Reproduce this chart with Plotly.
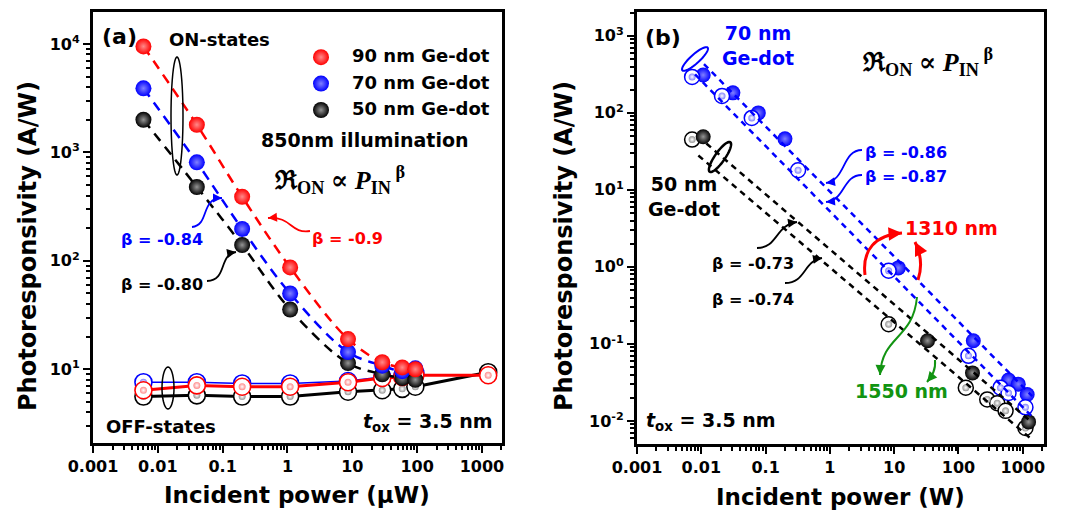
import math
import plotly.graph_objects as go

# ---------------- data: panel (a) ----------------
a_x_on = [0.006, 0.04, 0.2, 1.1, 8.6, 29, 59, 94]
a_red_on = [9500, 1800, 390, 87, 19, 11.6, 10.4, 10.0]
a_blue_on = [3900, 810, 197, 50, 14.4, 10.8, 9.6, 10.2]
a_black_on = [2000, 480, 140, 35.6, 11.4, 9.0, 8.3, 8.0]

a_x_off = [0.006, 0.04, 0.2, 1.1, 8.6, 29, 59, 94, 1250]
a_red_off = [6.4, 7.1, 6.9, 6.9, 7.6, 8.3, 8.5, 8.8, 8.8]
a_blue_off = [7.6, 7.6, 7.4, 7.4, 7.8, 8.5, 8.7, 9.2]
a_black_off = [5.6, 5.75, 5.6, 5.6, 6.2, 6.4, 6.6, 6.9, 9.4]

a_xticks = [0.001, 0.01, 0.1, 1, 10, 100, 1000]
a_xticktext = ["0.001", "0.01", "0.1", "1", "10", "100", "1000"]
a_yticks = [10, 100, 1000, 10000]
a_yticktext = ["10<sup>1</sup>", "10<sup>2</sup>", "10<sup>3</sup>", "10<sup>4</sup>"]

# ---------------- data: panel (b) ----------------
b_x_1310_70 = [0.0107, 0.031, 0.077, 0.2, 11.6, 170, 600, 850, 1170]
b_y_1310_70 = [310, 182, 100, 46, 0.97, 0.11, 0.034, 0.030, 0.022]
b_x_1550_70 = [0.0072, 0.021, 0.061, 0.32, 8.2, 143, 450, 600, 1100]
b_y_1550_70 = [293, 166, 86, 18, 0.89, 0.07, 0.027, 0.023, 0.015]
b_x_1310_50 = [0.0107, 33, 165, 1230]
b_y_1310_50 = [49, 0.11, 0.042, 0.0097]
b_x_1550_50 = [0.0072, 8.2, 130, 280, 400, 540, 1100]
b_y_1550_50 = [45, 0.18, 0.027, 0.019, 0.017, 0.0135, 0.0081]

# power-law fit lines (end points)
b_fit_1310_70_x = [0.011, 1400]
b_fit_1310_70_y = [430, 0.021]
b_fit_1550_70_x = [0.008, 1400]
b_fit_1550_70_y = [316, 0.0113]
b_fit_1310_50_x = [0.012, 1400]
b_fit_1310_50_y = [40, 0.0095]
b_fit_1550_50_x = [0.009, 1300]
b_fit_1550_50_y = [28, 0.006]

b_xticks = a_xticks
b_xticktext = a_xticktext
b_yticks = [0.01, 0.1, 1, 10, 100, 1000]
b_yticktext = ["10<sup>-2</sup>", "10<sup>-1</sup>", "10<sup>0</sup>",
               "10<sup>1</sup>", "10<sup>2</sup>", "10<sup>3</sup>"]

legend_names = ["90 nm Ge-dot", "70 nm Ge-dot", "50 nm Ge-dot"]

# ---------------- styling ----------------
W, H = 1083, 517
SANS = "DejaVu Sans"
SERIF = "Liberation Serif, DejaVu Serif, serif"
RED, BLUE, BLACK, GREEN = "#ff0000", "#0000ff", "#000000", "#129412"
LIGHT = {RED: "#ff8a8a", BLUE: "#8080ff", BLACK: "#959595"}


def X(px):
    return px / W


def Y(py):
    return 1 - py / H


fig = go.Figure()


def filled(color, size):
    return dict(color=color, size=size, line=dict(width=0),
                gradient=dict(type="radial", color=LIGHT[color]))


def add_off(x, y, color, lw, xa, ya, size=17):
    fig.add_trace(go.Scatter(x=x, y=y, mode="lines+markers", xaxis=xa, yaxis=ya,
                             line=dict(color=color, width=lw),
                             marker=dict(color="white", size=size,
                                         line=dict(color=color, width=1.6)),
                             showlegend=False, hoverinfo="skip"))
    fig.add_trace(go.Scatter(x=x, y=y, mode="markers", xaxis=xa, yaxis=ya,
                             marker=dict(color=LIGHT[color], size=7, line=dict(width=0),
                                         gradient=dict(type="radial", color="white")),
                             showlegend=False, hoverinfo="skip"))


def add_open(x, y, color, xa, ya, size=15):
    fig.add_trace(go.Scatter(x=x, y=y, mode="markers", xaxis=xa, yaxis=ya,
                             marker=dict(color="white", size=size,
                                         line=dict(color=color, width=1.5)),
                             showlegend=False, hoverinfo="skip"))
    fig.add_trace(go.Scatter(x=x, y=y, mode="markers", xaxis=xa, yaxis=ya,
                             marker=dict(color=LIGHT[color], size=7, line=dict(width=0),
                                         gradient=dict(type="radial", color="white")),
                             showlegend=False, hoverinfo="skip"))


# ---- panel (a) OFF states ----
add_off(a_x_off, a_black_off, BLACK, 3, "x", "y")
add_off(a_x_off[:len(a_blue_off)], a_blue_off, BLUE, 1.5, "x", "y")
add_off(a_x_off, a_red_off, RED, 3, "x", "y")

# ---- panel (a) ON states ----
for yv, col in [(a_black_on, BLACK), (a_blue_on, BLUE), (a_red_on, RED)]:
    fig.add_trace(go.Scatter(x=a_x_on, y=yv, mode="lines+markers", xaxis="x", yaxis="y",
                             line=dict(color=col, width=2.5, dash="10px,7px", shape="spline"),
                             marker=filled(col, 16), showlegend=False, hoverinfo="skip"))

# legend symbols (labels drawn as annotations)
for name, col in zip(legend_names, [RED, BLUE, BLACK]):
    fig.add_trace(go.Scatter(x=[None], y=[None], mode="markers", xaxis="x", yaxis="y",
                             marker=filled(col, 16), name=" ", showlegend=True))

# ---- panel (b) ----
add_open(b_x_1550_50, b_y_1550_50, BLACK, "x2", "y2")
fig.add_trace(go.Scatter(x=b_x_1310_50, y=b_y_1310_50, mode="markers", xaxis="x2", yaxis="y2",
                         marker=filled(BLACK, 15), showlegend=False, hoverinfo="skip"))
fig.add_trace(go.Scatter(x=b_x_1310_70, y=b_y_1310_70, mode="markers", xaxis="x2", yaxis="y2",
                         marker=filled(BLUE, 15), showlegend=False, hoverinfo="skip"))
add_open(b_x_1550_70, b_y_1550_70, BLUE, "x2", "y2")

for fx, fy, col in [(b_fit_1310_50_x, b_fit_1310_50_y, BLACK),
                    (b_fit_1550_50_x, b_fit_1550_50_y, BLACK),
                    (b_fit_1310_70_x, b_fit_1310_70_y, BLUE),
                    (b_fit_1550_70_x, b_fit_1550_70_y, BLUE)]:
    fig.add_trace(go.Scatter(x=fx, y=fy, mode="lines", xaxis="x2", yaxis="y2",
                             line=dict(color=col, width=2.5, dash="6px,5px"),
                             showlegend=False, hoverinfo="skip"))


# ---------------- axes ----------------
def minor_vals(k0, k1):
    return [m * 10 ** k for k in range(k0, k1) for m in range(2, 10)]


def axis_common():
    return dict(type="log", showline=True, linewidth=3, linecolor="black", mirror=True,
                ticks="outside", ticklen=7, tickwidth=2, tickcolor="black",
                showgrid=False, zeroline=False, automargin=False,
                tickfont=dict(family=SANS, size=16, color="black"))


fig.update_layout(
    xaxis=dict(**axis_common(), domain=[X(93), X(502)], range=[-3, 3.31],
               tickmode="array", tickvals=a_xticks,
               ticktext=["<b>%s</b>" % t for t in a_xticktext],
               minor=dict(ticks="outside", ticklen=4, tickwidth=1.5, tickcolor="black",
                          tickvals=minor_vals(-3, 4)), anchor="y"),
    yaxis=dict(**axis_common(), domain=[Y(443), Y(12)], range=[0.32, 4.295],
               tickmode="array", tickvals=a_yticks,
               ticktext=["<b>%s</b>" % t for t in a_yticktext],
               minor=dict(ticks="outside", ticklen=4, tickwidth=1.5, tickcolor="black",
                          tickvals=minor_vals(0, 5)), anchor="x"),
    xaxis2=dict(**axis_common(), domain=[X(637), X(1044)], range=[-3, 3.33],
                tickmode="array", tickvals=b_xticks,
                ticktext=["<b>%s</b>" % t for t in b_xticktext],
                minor=dict(ticks="outside", ticklen=4, tickwidth=1.5, tickcolor="black",
                           tickvals=minor_vals(-3, 4)), anchor="y2"),
    yaxis2=dict(**axis_common(), domain=[Y(444), Y(12)], range=[-2.30, 3.31],
                tickmode="array", tickvals=b_yticks,
                ticktext=["<b>%s</b>" % t for t in b_yticktext],
                minor=dict(ticks="outside", ticklen=4, tickwidth=1.5, tickcolor="black",
                           tickvals=minor_vals(-3, 4)), anchor="x2"),
)

# ---------------- annotations ----------------
ann = []


def text(px, py, s, size, color="black", family=SANS, angle=0, xanchor="center"):
    ann.append(dict(x=X(px), y=Y(py), xref="paper", yref="paper", text=s, showarrow=False,
                    font=dict(family=family, size=size, color=color), textangle=angle,
                    xanchor=xanchor, yanchor="middle", align="center"))


formula = "<b>ℜ<sub>ON</sub> ∝ <i>P</i><sub>IN</sub><sup> β</sup></b>"

# panel (a)
text(119, 36, "<b>(a)</b>", 22)
text(219, 40, "<b>ON-states</b>", 18)
for name, py in zip(legend_names, [55, 82, 108]):
    text(350, py, "<b>%s</b>" % name, 18, xanchor="left")
text(365, 140, "<b>850nm illumination</b>", 19)
text(340, 180, formula, 26, family=SERIF)
text(162, 239, "<b>β = -0.84</b>", 16, BLUE)
text(347, 238, "<b>β = -0.9</b>", 16, RED)
text(162, 284, "<b>β = -0.80</b>", 16, BLACK)
text(161, 426, "<b>OFF-states</b>", 18)
text(428, 422, "<b><i>t</i><sub>ox</sub> = 3.5 nm</b>", 19)
text(297, 495, "<b>Incident power (μW)</b>", 23)
text(28, 246, "<b>Photoresponsivity (A/W)</b>", 24, angle=-90)

# panel (b)
text(663, 37, "<b>(b)</b>", 22)
text(758, 46, "<b>70 nm<br>Ge-dot</b>", 19, BLUE)
text(928, 62, formula, 26, family=SERIF)
text(906, 152, "<b>β = -0.86</b>", 16, BLUE)
text(906, 176, "<b>β = -0.87</b>", 16, BLUE)
text(684, 197, "<b>50 nm<br>Ge-dot</b>", 19, BLACK)
text(753, 263, "<b>β = -0.73</b>", 16, BLACK)
text(753, 299, "<b>β = -0.74</b>", 16, BLACK)
text(951, 228, "<b>1310 nm</b>", 19, RED)
text(901, 391, "<b>1550 nm</b>", 19, GREEN)
text(711, 421, "<b><i>t</i><sub>ox</sub> = 3.5 nm</b>", 19)
text(840, 497, "<b>Incident power (W)</b>", 23)
text(564, 246, "<b>Photoresponsivity (A/W)</b>", 24, angle=-90)

shapes = []


def curve(p0, c1, c2, p1, color, width=2, head=1.0):
    path = "M %f,%f C %f,%f %f,%f %f,%f" % (X(p0[0]), Y(p0[1]), X(c1[0]), Y(c1[1]),
                                             X(c2[0]), Y(c2[1]), X(p1[0]), Y(p1[1]))
    shapes.append(dict(type="path", path=path, xref="paper", yref="paper",
                       line=dict(color=color, width=width)))
    dx, dy = c2[0] - p1[0], c2[1] - p1[1]
    n = math.hypot(dx, dy) or 1
    ann.append(dict(x=X(p1[0]), y=Y(p1[1]), xref="paper", yref="paper", text="",
                    showarrow=True, ax=dx / n * 9, ay=dy / n * 9, arrowhead=2,
                    arrowsize=head, arrowwidth=width, arrowcolor=color, standoff=0))


# panel (a) arrows
curve((192, 227), (210, 225), (200, 198), (222, 198), BLUE, 1.8)
curve((310, 231), (290, 234), (292, 216), (268, 218), RED, 1.8)
curve((207, 281), (228, 280), (218, 255), (236, 252), BLACK, 1.8)
# panel (b) arrows
curve((862, 150), (842, 150), (846, 180), (826, 183), BLUE, 1.8)
curve((862, 175), (842, 175), (846, 200), (826, 202), BLUE, 1.8)
curve((757, 248), (778, 248), (775, 225), (797, 222), BLACK, 1.8)
curve((785, 283), (806, 283), (803, 261), (822, 258), BLACK, 1.8)
curve((865, 275), (862, 250), (875, 235), (902, 233), RED, 3, 0.9)
curve((918, 280), (923, 265), (920, 252), (915, 242), RED, 3, 0.9)
curve((917, 297), (913, 340), (882, 335), (880, 375), GREEN, 2, 1.0)
curve((935, 360), (936, 370), (932, 376), (927, 382), GREEN, 2, 1.0)


def ellipse(cx, cy, a, b, ang_deg, color, width):
    t = math.radians(ang_deg)
    pts = []
    for i in range(49):
        u = 2 * math.pi * i / 48
        ex, ey = a * math.cos(u), b * math.sin(u)
        px = cx + ex * math.cos(t) - ey * math.sin(t)
        py = cy - (ex * math.sin(t) + ey * math.cos(t))
        pts.append((X(px), Y(py)))
    path = "M " + " L ".join("%f,%f" % p for p in pts) + " Z"
    shapes.append(dict(type="path", path=path, xref="paper", yref="paper",
                       line=dict(color=color, width=width)))


ellipse(177, 116, 6, 59, 0, BLACK, 1.5)
ellipse(168, 388, 6, 21, 0, BLACK, 1.5)
ellipse(695, 59, 17, 4.5, 42, BLUE, 2)
ellipse(720, 157, 18, 5, 55, BLACK, 2.5)

fig.update_layout(
    width=W, height=H, autosize=False,
    margin=dict(l=0, r=0, t=0, b=0, pad=0, autoexpand=False),
    paper_bgcolor="white", plot_bgcolor="white",
    annotations=ann, shapes=shapes,
    legend=dict(x=X(301), y=Y(39), xanchor="left", yanchor="top",
                font=dict(family=SANS, size=18, color="black"),
                bgcolor="rgba(0,0,0,0)", itemwidth=30, tracegroupgap=0),
    hovermode=False,
)

fig.write_html("out.html", config={"displayModeBar": False},
               post_script="document.body.style.margin='0';")
